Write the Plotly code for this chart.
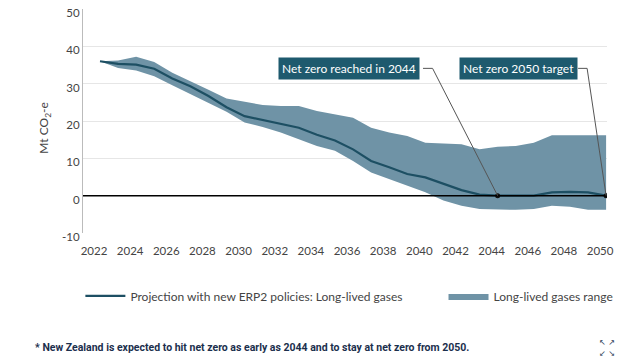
import plotly.graph_objects as go

years = list(range(2022, 2051))
projection = [36.0, 35.3, 35.1, 34.0, 31.4, 29.3, 26.7, 23.7, 21.3, 20.2, 19.1, 18.2, 16.3, 14.8,
              12.4, 9.3, 7.6, 5.8, 4.9, 3.1, 1.5, 0.3, 0.0, 0.0, 0.0, 0.9, 1.0, 0.9, 0.0]
range_upper = [36.0, 36.2, 37.2, 35.8, 32.9, 30.7, 28.4, 26.0, 25.1, 24.3, 24.0, 24.0, 22.7, 21.8,
               20.9, 18.2, 16.9, 16.0, 14.2, 14.0, 13.8, 12.4, 13.1, 13.3, 14.2, 16.2, 16.2, 16.2, 16.2]
range_lower = [36.0, 34.2, 33.5, 32.0, 29.6, 27.3, 24.9, 22.5, 19.6, 18.4, 16.9, 15.1, 13.3, 12.0,
               9.3, 6.2, 4.4, 2.7, 0.9, -1.3, -2.7, -3.6, -3.8, -3.8, -3.6, -2.7, -3.0, -3.8, -3.8]

x_ticks = list(range(2022, 2051, 2))
y_ticks = [-10, 0, 10, 20, 30, 40, 50]
y_tick_labels = ["-10", "0", "10", "20", "30", "40", "50"]

milestone_years = [2044, 2050]
milestone_values = [0, 0]
callout_texts = ["Net zero reached in 2044", "Net zero 2050 target"]
callout_x = [2035.78, 2045.13]
callout_y = 34.1
callout_elbow = [(2039.87, 2040.4), (2048.45, 2048.95)]

line_col = "#1d4f63"
fill_col = "#6f93a6"
box_col = "#1e5a6e"
font_fam = "Lato, 'Open Sans', sans-serif"

fig = go.Figure()
fig.add_trace(go.Scatter(x=years, y=range_lower, mode="lines", line=dict(width=0, color=fill_col),
                         showlegend=False, hoverinfo="skip"))
fig.add_trace(go.Scatter(x=years, y=range_upper, mode="lines", line=dict(width=0, color=fill_col),
                         fill="tonexty", fillcolor=fill_col, name="Long-lived gases range",
                         legend="legend2"))
fig.add_trace(go.Scatter(x=years, y=projection, mode="lines", line=dict(width=2.2, color=line_col),
                         name="Projection with new ERP2 policies: Long-lived gases", legend="legend"))
fig.add_trace(go.Scatter(x=milestone_years, y=milestone_values, mode="markers",
                         marker=dict(size=5, color="#111"), showlegend=False))

shapes = [dict(type="line", xref="paper", x0=0, x1=1, yref="y", y0=0, y1=0,
               line=dict(color="#000", width=1.5), layer="above")]
for (e0, e1), my, mv in zip(callout_elbow, milestone_years, milestone_values):
    shapes.append(dict(type="path", xref="x", yref="y",
                       path=f"M {e0},{callout_y} L {e1},{callout_y} L {my},{mv}",
                       line=dict(color="#555", width=1)))

annotations = []
for t, cx in zip(callout_texts, callout_x):
    annotations.append(dict(x=cx, y=callout_y, xref="x", yref="y", text=t, showarrow=False,
                            bgcolor=box_col, borderpad=3,
                            font=dict(color="white", size=12, family=font_fam)))
annotations.append(dict(x=-0.0725, y=0.466, xref="paper", yref="paper", textangle=-90,
                        xanchor="center", yanchor="middle",
                        showarrow=False, text="Mt CO<sub>2</sub>-e",
                        font=dict(size=12, color="#444", family=font_fam)))
annotations.append(dict(x=-0.0954, y=-0.509, xref="paper", yref="paper", xanchor="left",
                        yanchor="middle", showarrow=False,
                        text="<b>* New Zealand is expected to hit net zero as early as 2044 and to stay at net zero from 2050.</b>",
                        font=dict(color="#1b2f4d", size=10.5, family="Roboto, sans-serif")))
for icon_text, icon_y in [("↖ ↗", -0.491), ("↙ ↘", -0.540)]:
    annotations.append(dict(x=1.0, y=icon_y, xref="paper", yref="paper", xanchor="center",
                            yanchor="middle", showarrow=False, text=icon_text,
                            font=dict(color="#2a3b55", size=8, family="DejaVu Sans")))

legend_common = dict(orientation="h", y=-0.281, xanchor="left", yanchor="middle",
                     font=dict(size=12, color="#444"), itemwidth=40, bgcolor="rgba(0,0,0,0)")

fig.update_layout(
    width=632, height=352,
    margin=dict(l=75, r=33, t=1, b=127),
    paper_bgcolor="white", plot_bgcolor="white",
    font=dict(family=font_fam, color="#444", size=11.5),
    shapes=shapes, annotations=annotations,
    legend=dict(x=-0.005, **legend_common),
    legend2=dict(x=0.688, **legend_common),
    xaxis=dict(range=[2021.06, 2050.05], tickvals=x_ticks, showgrid=False, zeroline=False,
               showline=False, ticks="", automargin=False, ticklabelstandoff=9,
               ticklabelshift=-6, tickfont=dict(size=11.5, color="#444")),
    yaxis=dict(range=[-10, 50], tickvals=y_ticks, ticktext=y_tick_labels, showgrid=True,
               gridcolor="#e6e6e6", zeroline=False, showline=True, linecolor="#bbb", linewidth=1,
               ticks="", automargin=False, ticklabelshift=4, ticklabeloverflow="allow",
               tickfont=dict(size=11.5, color="#444")),
)

fig.write_html("out.html")
